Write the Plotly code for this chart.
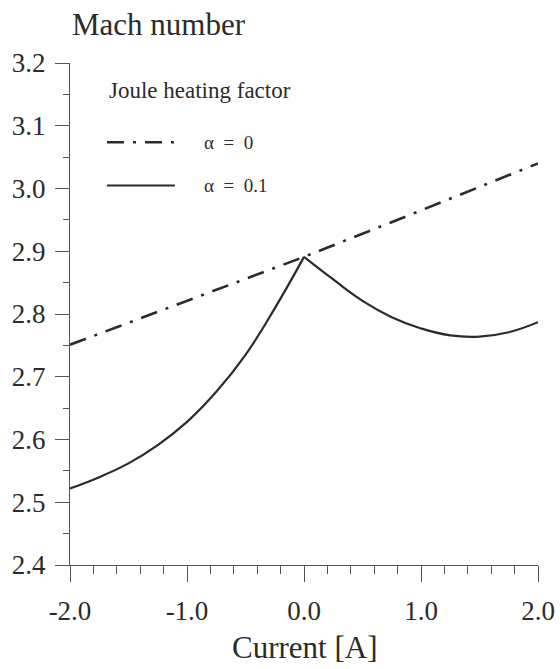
# Mach number vs current, for two Joule heating factors
import plotly.graph_objects as go

# datos
corriente_a0 = [-2.0, -1.0, 0.0, 1.0, 2.0]
mach_a0 = [2.751, 2.821, 2.891, 2.965, 3.040]

corriente_a01_izq = [-2.0, -1.75, -1.5, -1.25, -1.0, -0.75, -0.5, -0.25, 0.0]
mach_a01_izq = [2.522, 2.540, 2.562, 2.591, 2.628, 2.676, 2.735, 2.809, 2.891]

corriente_a01_der = [0.0, 0.25, 0.5, 0.75, 1.0, 1.25, 1.5, 1.75, 2.0]
mach_a01_der = [2.891, 2.855, 2.821, 2.795, 2.777, 2.766, 2.764, 2.771, 2.787]

x_ticks = [-2.0, -1.0, 0.0, 1.0, 2.0]
x_ticktext = ['-2.0', '-1.0', '0.0', '1.0', '2.0']

serif = 'Liberation Serif, Times New Roman, serif'
ink = '#2b2b2b'
axis_col = '#555555'

fig = go.Figure()

fig.add_trace(go.Scatter(
    x=corriente_a0, y=mach_a0, mode='lines', name='α = 0',
    line=dict(color=ink, width=2.6, dash='17px,9px,3px,9px'),
))
fig.add_trace(go.Scatter(
    x=corriente_a01_izq, y=mach_a01_izq, mode='lines', name='α = 0.1',
    line=dict(color=ink, width=2.2, shape='spline', smoothing=1.3),
))
fig.add_trace(go.Scatter(
    x=corriente_a01_der, y=mach_a01_der, mode='lines', name='α = 0.1',
    line=dict(color=ink, width=2.2, shape='spline', smoothing=1.3),
    showlegend=False,
))

fig.update_layout(
    width=560, height=669,
    margin=dict(l=70, r=22, t=63, b=104),
    paper_bgcolor='white', plot_bgcolor='white',
    showlegend=False,
    font=dict(family=serif, color=ink),
)

fig.update_xaxes(
    range=[-2, 2], tickvals=x_ticks, ticktext=x_ticktext,
    automargin=False,
    showgrid=False, zeroline=False,
    showline=True, linecolor=axis_col, linewidth=1.3,
    ticks='outside', ticklen=16, tickwidth=1.3, tickcolor=axis_col,
    tickfont=dict(size=27, family=serif, color=ink),
    ticklabelstandoff=5,
    minor=dict(dtick=0.2, ticks='outside', ticklen=8, tickwidth=1.3, tickcolor=axis_col),
)
fig.update_yaxes(
    range=[2.4, 3.2], dtick=0.1, tickformat='.1f',
    automargin=False,
    showgrid=False, zeroline=False,
    showline=True, linecolor=axis_col, linewidth=1.3,
    ticks='outside', ticklen=14, tickwidth=1.3, tickcolor=axis_col,
    tickfont=dict(size=27, family=serif, color=ink),
    ticklabelstandoff=4,
    minor=dict(dtick=0.05, ticks='outside', ticklen=6, tickwidth=1.3, tickcolor=axis_col),
)

# títulos de ejes
fig.add_annotation(text='Mach number', xref='paper', yref='paper', x=0.19, y=1.076,
                   xanchor='center', yanchor='middle', showarrow=False,
                   font=dict(size=31, family=serif, color=ink))
fig.add_annotation(text='Current [A]', xref='paper', yref='paper', x=0.5, y=-0.164,
                   xanchor='center', yanchor='middle', showarrow=False,
                   font=dict(size=31, family=serif, color=ink))

# leyenda dibujada a mano
fig.add_annotation(text='Joule heating factor', xref='paper', yref='paper', x=0.079, y=0.946,
                   xanchor='left', yanchor='middle', showarrow=False,
                   font=dict(size=23, family=serif, color=ink))
fig.add_shape(type='line', xref='paper', yref='paper', x0=0.079, x1=0.224, y0=0.842, y1=0.842,
              line=dict(color=ink, width=2.6, dash='17px,9px,3px,9px'))
fig.add_shape(type='line', xref='paper', yref='paper', x0=0.079, x1=0.224, y0=0.756, y1=0.756,
              line=dict(color=ink, width=2.2))
fig.add_annotation(text='α\u00a0\u00a0=\u00a0\u00a00', xref='paper', yref='paper', x=0.282, y=0.842,
                   xanchor='left', yanchor='middle', showarrow=False,
                   font=dict(size=19, family=serif, color=ink))
fig.add_annotation(text='α\u00a0\u00a0=\u00a0\u00a00.1', xref='paper', yref='paper', x=0.282, y=0.756,
                   xanchor='left', yanchor='middle', showarrow=False,
                   font=dict(size=19, family=serif, color=ink))

# quitar el margen de la página para que la figura ocupe la ventana entera
fig.write_html('out.html', config={'displayModeBar': False},
               post_script="document.body.style.margin='0';document.body.style.overflow='hidden';")
